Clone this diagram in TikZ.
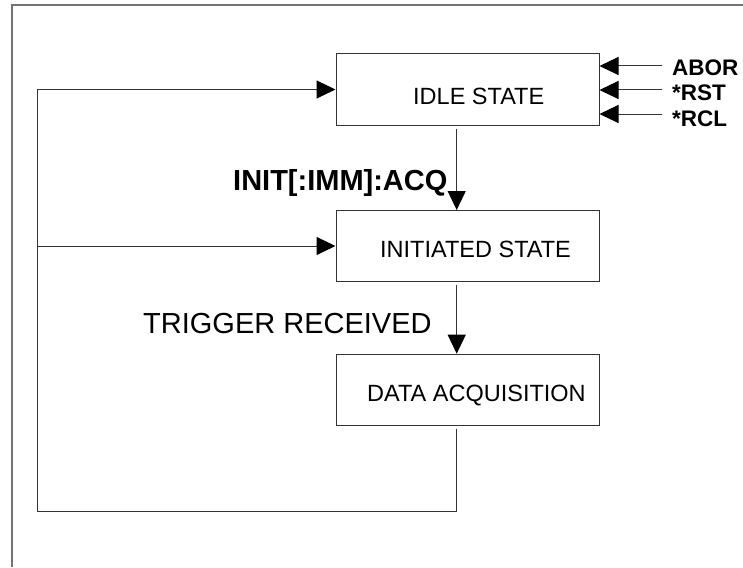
\documentclass[tikz,border=0pt]{standalone}
\usepackage{fontspec}
\setmainfont{Liberation Sans}
\usetikzlibrary{arrows.meta}
\begin{document}
\begin{tikzpicture}[x=1pt,y=-1pt,
  box/.style={draw=black!80,line width=1pt,minimum width=263pt,minimum height=71pt,inner sep=0pt,rectangle},
  boxtext/.style={inner sep=0pt,anchor=base west,font=\fontsize{23.5}{26}\selectfont},
  cmdtext/.style={inner sep=0pt,anchor=base west,font=\fontsize{22.5}{26}\selectfont\bfseries},
  conn/.style={draw=black!80,line width=1pt},
  arr/.style={conn,-{Triangle[length=19pt,width=18pt,color=black]}},
  frameline/.style={draw=black!55,line width=1.3pt}]
\useasboundingbox (0,0) rectangle (743,567);
% outer frame (only top and left edges visible)
\draw[frameline] (12,567) -- (12,5) -- (743,5);
% boxes
\node[box] (idle) at (467.5,89.5) {};
\node[box] (init) at (467.5,246) {};
\node[box] (daq) at (467.5,389.7) {};
% box texts
\node[boxtext] (idletext) at (413,104) {IDLE STATE};
\node[boxtext] (inittext) at (380,257) {INITIATED STATE};
\node[boxtext] (daqtext) at (367,401) {DATA ACQUISITION};
% transitions
\draw[arr,shorten <=3pt] ([xshift=-10.8pt]idle.south) -- ([xshift=-10.8pt]init.north);
\draw[arr,shorten <=3pt] ([xshift=-10.8pt]init.south) -- ([xshift=-10.8pt]daq.north);
\coordinate (bl) at (37.3,511);
\draw[arr,shorten <=3pt] ([xshift=-10.8pt]daq.south) |- (bl) |- (idle.west);
\coordinate (ml) at (37.3,246);
\draw[arr] (ml) -- (init.west);
% transition labels
\node[inner sep=0pt,anchor=base west,font=\fontsize{29}{32}\selectfont\bfseries] (initlbl) at (233,190) {INIT[:IMM]:ACQ};
\node[inner sep=0pt,anchor=base west,font=\fontsize{29}{32}\selectfont] (trglbl) at (143,333) {TRIGGER RECEIVED};
% command inputs to idle
\coordinate (c1) at (662,66);
\coordinate (c2) at (662,90);
\coordinate (c3) at (662,114);
\draw[arr] (c1) -- (idle.east |- c1);
\draw[arr] (c2) -- (idle.east |- c2);
\draw[arr] (c3) -- (idle.east |- c3);
\node[cmdtext] (abor) at (672,76) {ABOR};
\node[cmdtext] (rst) at (672,101) {*RST};
\node[cmdtext] (rcl) at (672,126) {*RCL};
\end{tikzpicture}
\end{document}
